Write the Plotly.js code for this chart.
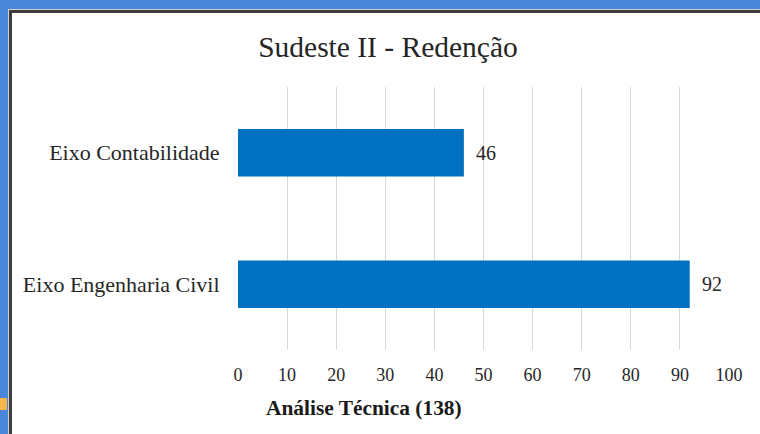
<!DOCTYPE html>
<html>
<head>
<meta charset="utf-8">
<script src="https://cdn.plot.ly/plotly-3.0.1.min.js"></script>
<style>
  html, body { margin:0; padding:0; width:760px; height:434px; overflow:hidden; background:#4a86d9; }
  #frame { position:absolute; left:8px; top:9px; width:752px; height:425px; background:#fff;
           border-left:1px solid #d0d0d0; border-top:1px solid #d0d0d0; box-sizing:border-box; }
  #frame2 { position:absolute; left:9px; top:10px; width:751px; height:424px;
            border-left:3px solid #3c3c3c; border-top:3px solid #3c3c3c; box-sizing:border-box; }
  #orange { position:absolute; left:0; top:398px; width:7px; height:12px; background:#f6b64c; }
  #chart { position:absolute; left:0; top:0; width:760px; height:434px; }
</style>
</head>
<body>
<div id="frame"></div>
<div id="frame2"></div>
<div id="orange"></div>
<div id="chart"></div>
<script>
const categories = ['Eixo Engenharia Civil', 'Eixo Contabilidade'];
const values = [92, 46];
const tickVals = [0, 10, 20, 30, 40, 50, 60, 70, 80, 90, 100];
const titleText = 'Sudeste II - Redenção';
const xTitleText = 'Análise Técnica (138)';

const serif = 'Liberation Serif, DejaVu Serif, serif';

const trace = {
  type: 'bar',
  orientation: 'h',
  x: values,
  y: categories,
  marker: { color: '#0070c0', line: { width: 0 } },
  hoverinfo: 'none'
};

const labelAnns = values.map((v, i) => ({
  x: v, y: categories[i], xref: 'x', yref: 'y',
  text: String(v), showarrow: false, xanchor: 'left', yanchor: 'middle',
  xshift: 10, font: { family: serif, size: 20, color: '#262626' }
}));

const layout = {
  width: 760, height: 434,
  paper_bgcolor: 'rgba(0,0,0,0)',
  plot_bgcolor: 'rgba(0,0,0,0)',
  margin: { l: 238, r: 31, t: 87, b: 84 },
  showlegend: false,
  bargap: 0.64,
  font: { family: serif },
  title: {
    text: titleText,
    font: { family: serif, size: 29.5, color: '#262626' },
    x: 0.5105, xref: 'container', xanchor: 'center',
    y: 0.892, yref: 'container', yanchor: 'middle'
  },
  xaxis: {
    range: [0, 100],
    tickvals: tickVals,
    ticktext: tickVals.map(String),
    showgrid: true, gridcolor: '#d9d9d9', gridwidth: 1,
    zeroline: false, showline: false,
    ticks: 'outside', ticklen: 8, tickcolor: 'rgba(0,0,0,0)',
    tickfont: { family: serif, size: 18, color: '#262626' },
    fixedrange: true
  },
  yaxis: {
    categoryorder: 'array', categoryarray: categories,
    showgrid: false, zeroline: false, showline: false,
    ticks: 'outside', ticklen: 13, tickcolor: 'rgba(0,0,0,0)',
    tickfont: { family: serif, size: 22, color: '#262626' },
    fixedrange: true
  },
  annotations: labelAnns.concat([{
    x: 0.2566, y: -0.2205, xref: 'paper', yref: 'paper',
    text: '<b>' + xTitleText + '</b>', showarrow: false,
    xanchor: 'center', yanchor: 'middle',
    font: { family: serif, size: 21.4, color: '#1a1a1a' }
  }])
};

Plotly.newPlot('chart', [trace], layout, { staticPlot: true, displayModeBar: false });
</script>
</body>
</html>
